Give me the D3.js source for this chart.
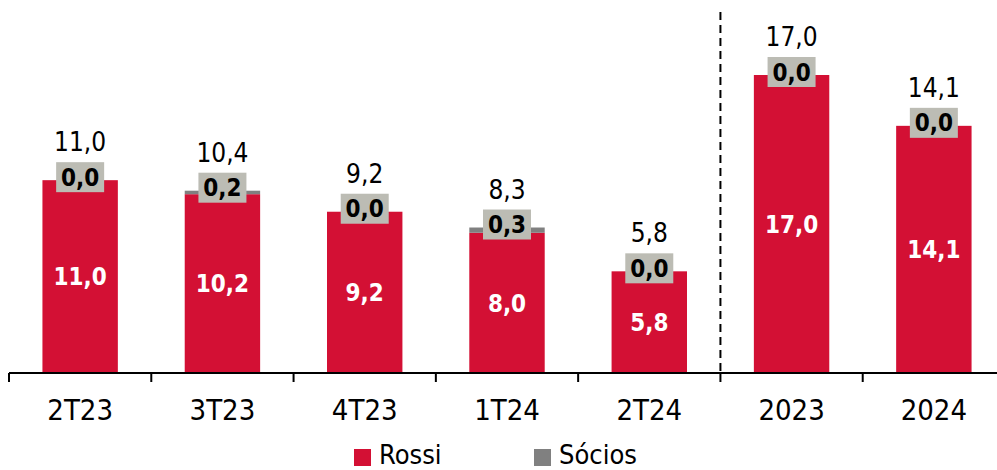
<!DOCTYPE html>
<html>
<head>
<meta charset="utf-8">
<script src="https://cdn.jsdelivr.net/npm/d3@7"></script>
<style>
  body { margin: 0; background: #fff; }
  svg { display: block; font-family: "DejaVu Sans Condensed", "DejaVu Sans", sans-serif; }
</style>
</head>
<body>
<div id="chart"></div>
<script>
const categories = ["2T23", "3T23", "4T23", "1T24", "2T24", "2023", "2024"];
const rossi = [11.0, 10.2, 9.2, 8.0, 5.8, 17.0, 14.1];
const socios = [0.0, 0.2, 0.0, 0.3, 0.0, 0.0, 0.0];
const seriesNames = ["Rossi", "Sócios"];

const width = 997, height = 470;
const red = "#d31034", gray = "#808080", boxGray = "#bcbcb4";
const fmt = v => d3.format(".1f")(v).replace(".", ",");

const data = categories.map((c, i) => ({ cat: c, Rossi: rossi[i], "Sócios": socios[i] }));

const svg = d3.select("#chart").append("svg")
    .attr("width", width)
    .attr("height", height);

const x = d3.scaleBand().domain(categories).range([9, 1005])
    .paddingInner(0.47).paddingOuter(0.235);
const y = d3.scaleLinear().domain([0, 17]).range([373, 75]);

const series = d3.stack().keys(seriesNames)(data);
const color = d3.scaleOrdinal().domain(seriesNames).range([red, gray]);

svg.selectAll("g.layer")
    .data(series)
    .enter().append("g")
    .attr("class", "layer")
    .attr("fill", d => color(d.key))
    .selectAll("rect")
    .data(d => d)
    .enter().append("rect")
    .attr("x", d => x(d.data.cat))
    .attr("y", d => y(d[1]))
    .attr("width", x.bandwidth())
    .attr("height", d => y(d[0]) - y(d[1]));

// white values inside the red bars
svg.selectAll("text.inner")
    .data(data)
    .enter().append("text")
    .attr("class", "inner")
    .attr("x", d => x(d.cat) + x.bandwidth() / 2)
    .attr("y", d => (y(0) + y(d.Rossi)) / 2)
    .attr("dy", "0.36em")
    .attr("text-anchor", "middle")
    .attr("fill", "#fff")
    .style("font-weight", "bold")
    .style("font-size", "24px")
    .text(d => fmt(d.Rossi));

// grey boxes with the Sócios values
const boxW = 48, boxH = 30;
const boxes = svg.selectAll("g.box")
    .data(data)
    .enter().append("g")
    .attr("class", "box")
    .attr("transform", d => `translate(${x(d.cat) + x.bandwidth() / 2},${y(d.Rossi + d["Sócios"]) - 3})`);

boxes.append("rect")
    .attr("x", -boxW / 2).attr("y", -boxH / 2)
    .attr("width", boxW).attr("height", boxH)
    .attr("fill", boxGray);

boxes.append("text")
    .attr("text-anchor", "middle")
    .attr("dy", "0.36em")
    .style("font-weight", "bold")
    .style("font-size", "24px")
    .attr("fill", "#000")
    .text(d => fmt(d["Sócios"]));

// totals
svg.selectAll("text.total")
    .data(data)
    .enter().append("text")
    .attr("class", "total")
    .attr("x", d => x(d.cat) + x.bandwidth() / 2)
    .attr("y", d => y(d.Rossi + d["Sócios"]) - 3 - boxH / 2 - 11)
    .attr("text-anchor", "middle")
    .style("font-size", "26px")
    .attr("fill", "#000")
    .text(d => fmt(d.Rossi + d["Sócios"]));

// x axis
const axis = svg.append("g")
    .attr("transform", `translate(0,${y(0)})`)
    .call(d3.axisBottom(x).tickSize(0).tickPadding(26));
axis.select(".domain").remove();
axis.selectAll("text")
    .style("font-family", "'DejaVu Sans Condensed', 'DejaVu Sans', sans-serif")
    .style("font-size", "29px")
    .attr("fill", "#000");

svg.append("line")
    .attr("x1", 9).attr("x2", width)
    .attr("y1", y(0)).attr("y2", y(0))
    .attr("stroke", "#000").attr("stroke-width", 2);

const step = x.step();
const tickXs = d3.range(categories.length + 1).map(i => x(categories[0]) - x.step() * x.paddingOuter() + i * step);
svg.selectAll("line.tick")
    .data(tickXs)
    .enter().append("line")
    .attr("class", "tick")
    .attr("x1", d => d).attr("x2", d => d)
    .attr("y1", y(0)).attr("y2", y(0) + 9)
    .attr("stroke", "#000").attr("stroke-width", 2);

// dashed separator between quarters and years
const sepX = x("2023") - x.step() * x.paddingInner() / 2;
svg.append("line")
    .attr("x1", sepX).attr("x2", sepX)
    .attr("y1", 12).attr("y2", y(0))
    .attr("stroke", "#000").attr("stroke-width", 2)
    .attr("stroke-dasharray", "8,5");

// legend
const legendX = [354, 534];
const legend = svg.selectAll("g.legend")
    .data(seriesNames)
    .enter().append("g")
    .attr("class", "legend")
    .attr("transform", (d, i) => `translate(${legendX[i]},449)`);

legend.append("rect")
    .attr("width", 17).attr("height", 17)
    .attr("fill", d => color(d));

legend.append("text")
    .attr("x", 25).attr("y", 15)
    .style("font-size", "27px")
    .attr("fill", "#000")
    .text(d => d);
</script>
</body>
</html>
